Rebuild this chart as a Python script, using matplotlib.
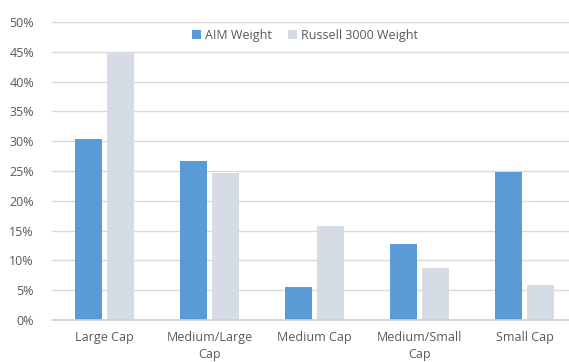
import numpy as np
import matplotlib.pyplot as plt
from matplotlib.ticker import PercentFormatter

categories = ['Large Cap', 'Medium/Large\nCap', 'Medium Cap', 'Medium/Small\nCap', 'Small Cap']
aim_weight = [30.4, 26.6, 5.5, 12.7, 24.9]
russell_weight = [45.0, 24.7, 15.8, 8.7, 5.9]
y_ticks = [0, 5, 10, 15, 20, 25, 30, 35, 40, 45, 50]

plt.rcParams['font.family'] = ['Open Sans', 'DejaVu Sans']

W, H = 569, 362
fig = plt.figure(figsize=(W / 100, H / 100), dpi=100)
# axes spans x 52..577 px (right side cut by the image edge), y 22..320 px
ax = fig.add_axes([52 / W, (H - 320) / H, 525 / W, 298 / H])

x = np.arange(len(categories))
bw = 0.25
off = 0.153
ax.bar(x - off, aim_weight, bw, color='#5B9BD5', label='AIM Weight', zorder=3)
ax.bar(x + off, russell_weight, bw, color='#D6DCE5', label='Russell 3000 Weight', zorder=3)

ax.set_xlim(-0.5, len(categories) - 0.5)
ax.set_ylim(0, 50)
ax.set_yticks(y_ticks)
ax.yaxis.set_major_formatter(PercentFormatter(decimals=0))
ax.set_xticks(x)
ax.set_xticklabels(categories, linespacing=1.4)

ax.grid(axis='y', color='#D9D9D9', linewidth=1.0, zorder=0)
for s in ['top', 'right', 'left']:
    ax.spines[s].set_visible(False)
ax.spines['bottom'].set_color('#D0D0D0')
ax.spines['bottom'].set_linewidth(1.2)
ax.spines['bottom'].set_zorder(4)
ax.tick_params(axis='both', length=0, colors='#595959', labelsize=9)
ax.tick_params(axis='y', pad=13)
ax.tick_params(axis='x', pad=8)

ax.legend(loc='upper center', bbox_to_anchor=(0.482, 1.015), ncol=2, frameon=False,
          fontsize=9, handlelength=0.7, handleheight=0.7, handletextpad=0.3,
          columnspacing=1.3, labelcolor='#595959')

fig.savefig('out.png', dpi=100, facecolor='white')
